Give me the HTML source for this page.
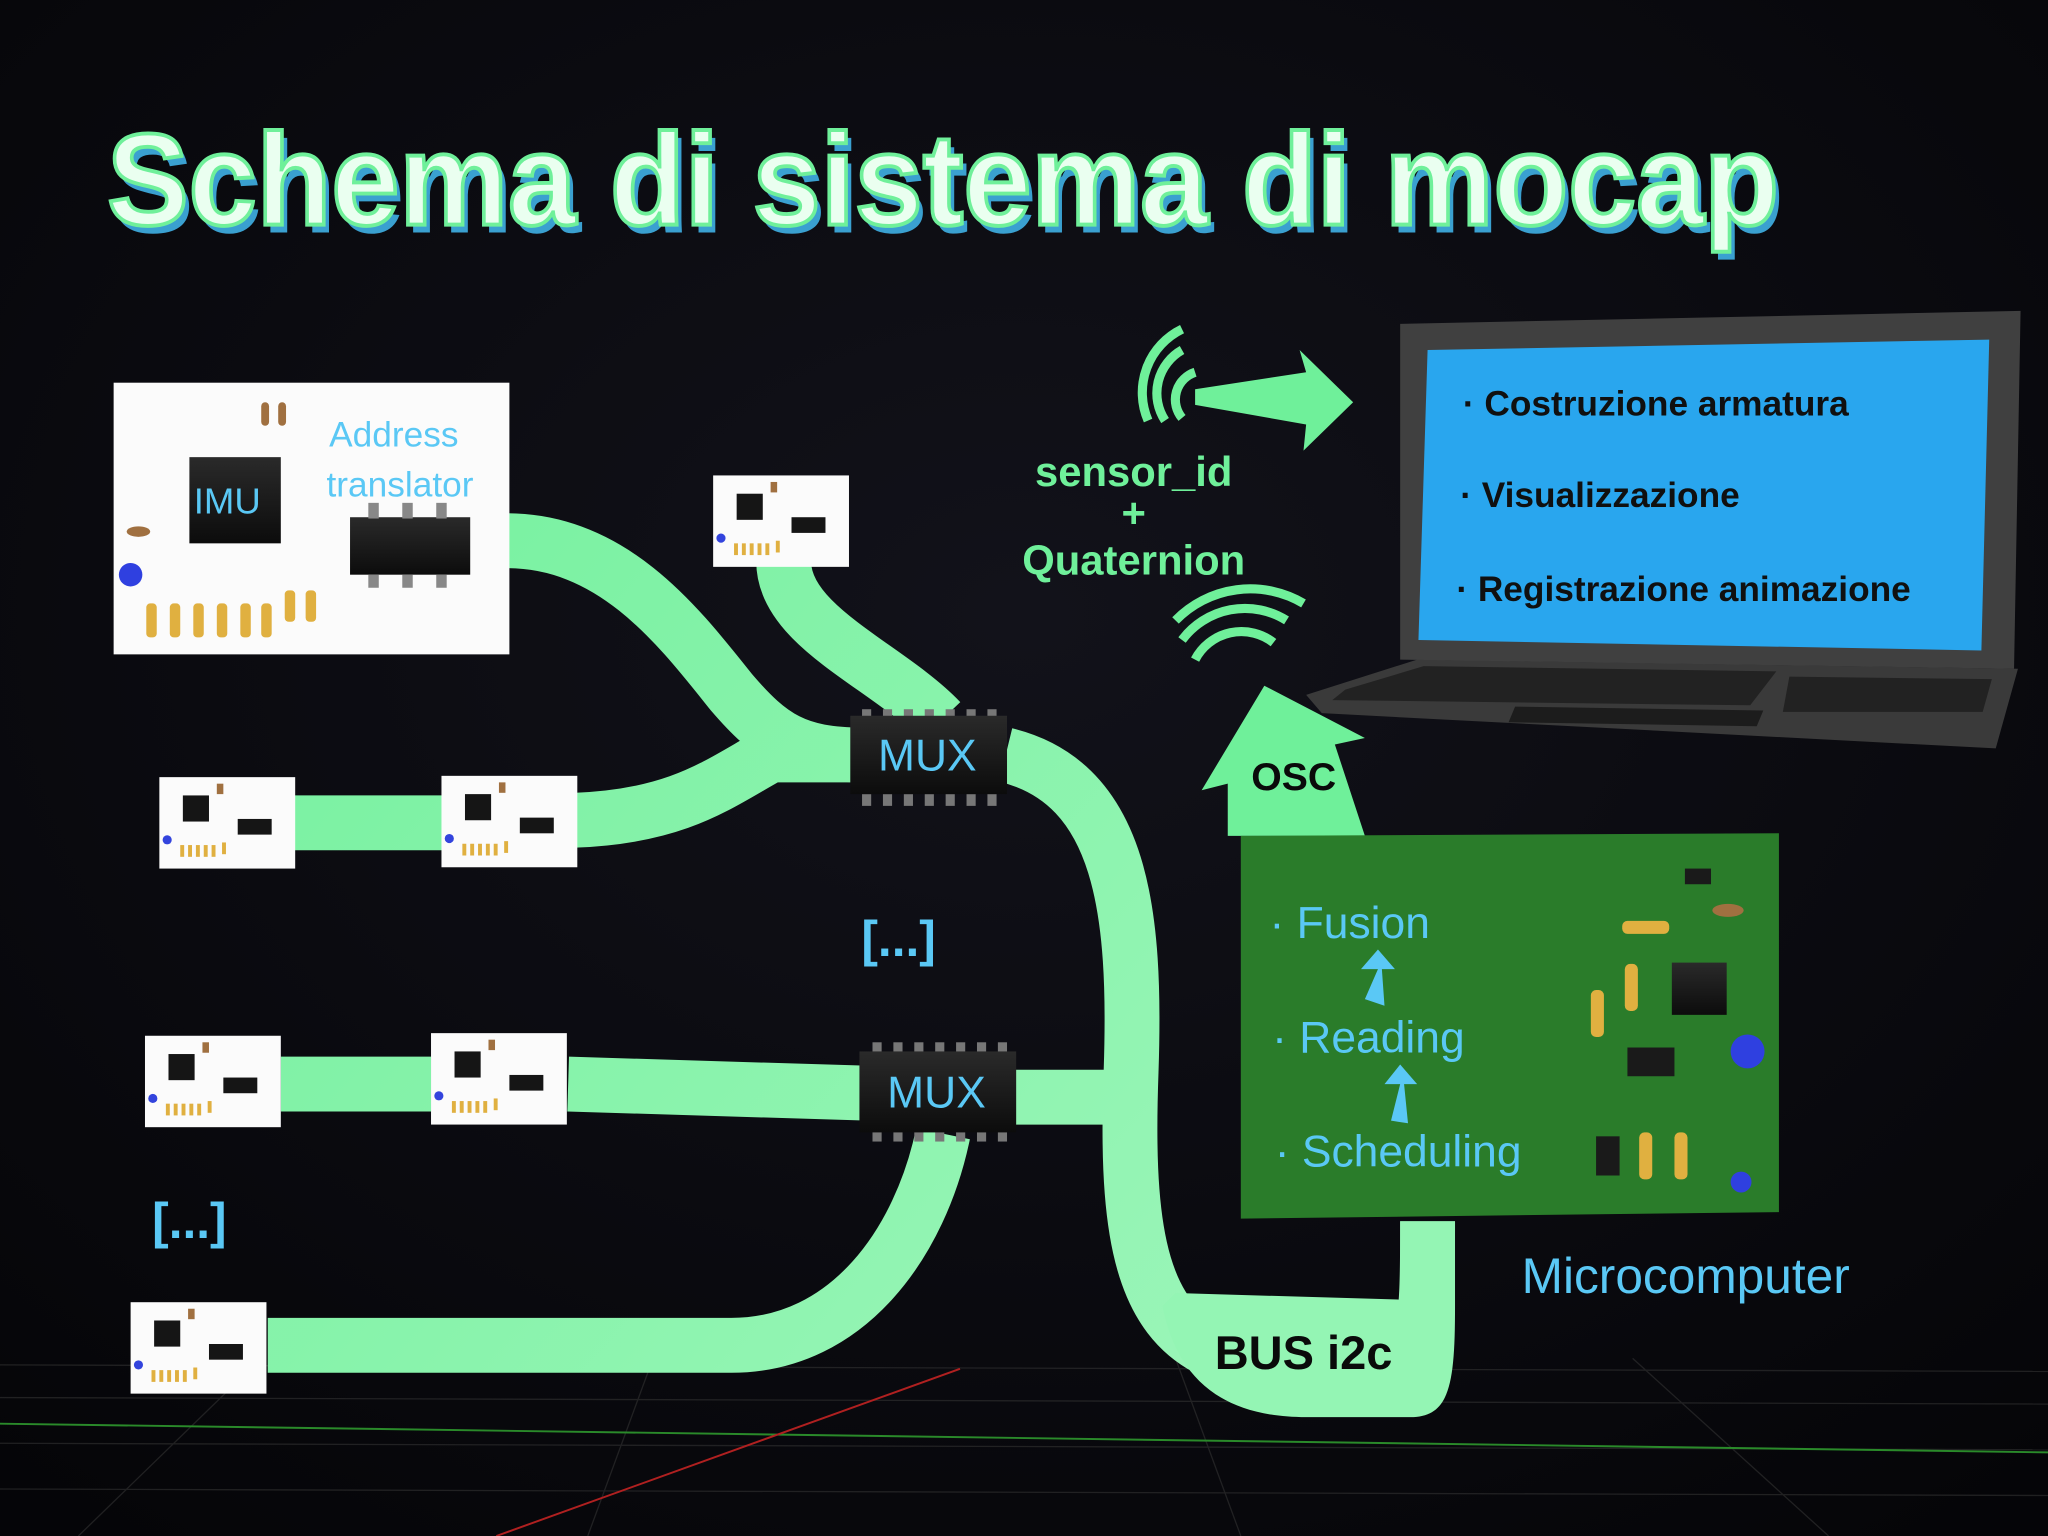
<!DOCTYPE html>
<html><head><meta charset="utf-8"><style>
html,body{margin:0;padding:0;background:#07070c;}
svg{display:block}
</style></head><body>
<svg width="2048" height="1536" viewBox="0 0 1568 1176" preserveAspectRatio="none" xmlns="http://www.w3.org/2000/svg">
<defs>
<radialGradient id="bg" cx="50%" cy="40%" r="75%"><stop offset="0" stop-color="#12121a"/><stop offset="1" stop-color="#050508"/></radialGradient>
<linearGradient id="rib" gradientUnits="userSpaceOnUse" x1="0" y1="300" x2="900" y2="1100"><stop offset="0" stop-color="#6ff09a"/><stop offset="1" stop-color="#9af5b8"/></linearGradient>
<linearGradient id="chip" x1="0" y1="0" x2="0" y2="1"><stop offset="0" stop-color="#2a2a2a"/><stop offset="1" stop-color="#0c0c0c"/></linearGradient>
<g id="sb">
<rect x="0" y="0" width="104" height="70" fill="#fbfbfb"/>
<rect x="18" y="14" width="20" height="20" fill="#151515"/>
<rect x="60" y="32" width="26" height="12" fill="#151515"/>
<g fill="#e0b040"><rect x="16" y="52" width="3" height="9"/><rect x="22" y="52" width="3" height="9"/><rect x="28" y="52" width="3" height="9"/><rect x="34" y="52" width="3" height="9"/><rect x="40" y="52" width="3" height="9"/><rect x="48" y="50" width="3" height="9"/></g>
<circle cx="6" cy="48" r="3.5" fill="#3344dd"/>
<rect x="44" y="5" width="5" height="8" fill="#a07040"/>
</g>
</defs>
<rect width="1568" height="1176" fill="url(#bg)"/>
<!-- floor grid -->
<g stroke="#333" stroke-width="1" opacity="0.6">
<line x1="0" y1="1045" x2="1568" y2="1050"/><line x1="0" y1="1070" x2="1568" y2="1075"/><line x1="0" y1="1105" x2="1568" y2="1110"/><line x1="0" y1="1140" x2="1568" y2="1145"/>
<line x1="200" y1="1040" x2="60" y2="1176"/><line x1="500" y1="1040" x2="450" y2="1176"/><line x1="900" y1="1040" x2="950" y2="1176"/><line x1="1250" y1="1040" x2="1400" y2="1176"/>
</g>
<line x1="0" y1="1090" x2="1568" y2="1112" stroke="#2a8a2a" stroke-width="1.5"/>
<line x1="735" y1="1048" x2="380" y2="1176" stroke="#b02020" stroke-width="1.5"/>

<!-- title -->
<text x="82" y="172" font-family="Liberation Sans,sans-serif" font-weight="bold" font-size="100" textLength="1280" lengthAdjust="spacingAndGlyphs" fill="#3aa0d0" transform="translate(4,6)">Schema di sistema di mocap</text>
<text x="82" y="172" font-family="Liberation Sans,sans-serif" font-weight="bold" font-size="100" textLength="1280" lengthAdjust="spacingAndGlyphs" fill="#eafff0" stroke="#6ff09a" stroke-width="3">Schema di sistema di mocap</text>

<!-- ribbons -->
<g fill="none" stroke="url(#rib)" stroke-width="42" stroke-linejoin="round">
<path d="M388,414 C470,414 520,480 560,530 C590,565 610,578 660,578"/>
<path d="M600,430 C600,480 680,510 720,552"/>
<path d="M225,630 L340,630"/>
<path d="M440,628 C520,625 550,600 590,578 L660,578"/>
<path d="M770,578 C860,600 870,700 866,820 C862,930 870,1000 920,1030 L1060,1040 C1092,1040 1093,1020 1093,935"/>
<path d="M215,830 L330,830"/>
<path d="M435,830 L665,837"/>
<path d="M775,840 L860,840"/>
<path d="M205,1030 L560,1030 C650,1030 705,950 722,868"/>
</g>
<path d="M890,1000 C900,1050 930,1085 1000,1085 L1080,1085 C1110,1085 1114,1060 1114,1000 L1114,935 L1072,935 L1072,995 L900,990 Z" fill="#94f5b4"/>
<!-- OSC arrow -->
<polygon points="940,640 940,600 920,605 968,525 1045,565 1022,570 1045,640" fill="#6ff09a"/>
<text x="958" y="605" font-family="Liberation Sans,sans-serif" font-weight="bold" font-size="30" fill="#0a0a0a">OSC</text>
<!-- wireless arrow -->
<polygon points="915,298 1000,285 995,268 1036,308 998,345 1000,325 915,310" fill="#6ff09a"/>
<g fill="none" stroke="#6ff09a" stroke-width="7">
<path d="M905,320 A22,22 0 0 1 915,285"/><path d="M892,322 A38,38 0 0 1 905,268"/><path d="M879,322 A54,54 0 0 1 905,252"/>
<path d="M915,505 A40,40 0 0 1 975,492"/><path d="M905,490 A60,60 0 0 1 985,475"/><path d="M900,475 A80,80 0 0 1 998,462"/>
</g>
<text x="868" y="372" text-anchor="middle" font-family="Liberation Sans,sans-serif" font-weight="bold" font-size="32" fill="#6ff09a">sensor_id</text>
<text x="868" y="404" text-anchor="middle" font-family="Liberation Sans,sans-serif" font-weight="bold" font-size="32" fill="#6ff09a">+</text>
<text x="868" y="440" text-anchor="middle" font-family="Liberation Sans,sans-serif" font-weight="bold" font-size="32" fill="#6ff09a">Quaternion</text>

<!-- big board -->
<rect x="87" y="293" width="303" height="208" fill="#fbfbfb"/>
<rect x="145" y="350" width="70" height="66" fill="url(#chip)"/>
<text x="174" y="393" text-anchor="middle" font-family="Liberation Sans,sans-serif" font-size="28" fill="#5ac8f5">IMU</text>
<rect x="268" y="396" width="92" height="44" fill="url(#chip)"/>
<g fill="#888"><rect x="282" y="385" width="8" height="12"/><rect x="308" y="385" width="8" height="12"/><rect x="334" y="385" width="8" height="12"/><rect x="282" y="440" width="8" height="10"/><rect x="308" y="440" width="8" height="10"/><rect x="334" y="440" width="8" height="10"/></g>
<text x="252" y="342" font-family="Liberation Sans,sans-serif" font-size="27" fill="#5ac8f5">Address</text>
<text x="250" y="380" font-family="Liberation Sans,sans-serif" font-size="27" fill="#5ac8f5">translator</text>
<g fill="#e0b040"><rect x="112" y="462" width="8" height="26" rx="3"/><rect x="130" y="462" width="8" height="26" rx="3"/><rect x="148" y="462" width="8" height="26" rx="3"/><rect x="166" y="462" width="8" height="26" rx="3"/><rect x="184" y="462" width="8" height="26" rx="3"/><rect x="200" y="462" width="8" height="26" rx="3"/><rect x="218" y="452" width="8" height="24" rx="3"/><rect x="234" y="452" width="8" height="24" rx="3"/></g>
<rect x="200" y="308" width="6" height="18" rx="3" fill="#a07040"/><rect x="213" y="308" width="6" height="18" rx="3" fill="#a07040"/>
<ellipse cx="106" cy="407" rx="9" ry="4" fill="#a07040"/>
<circle cx="100" cy="440" r="9" fill="#2f40e0"/>

<!-- small boards -->
<use href="#sb" x="546" y="364" />
<use href="#sb" x="122" y="595"/>
<use href="#sb" x="338" y="594"/>
<use href="#sb" x="111" y="793"/>
<use href="#sb" x="330" y="791"/>
<use href="#sb" x="100" y="997"/>

<!-- MUX chips -->
<g>
<g fill="#777"><rect x="660" y="543" width="7" height="8"/><rect x="676" y="543" width="7" height="8"/><rect x="692" y="543" width="7" height="8"/><rect x="708" y="543" width="7" height="8"/><rect x="724" y="543" width="7" height="8"/><rect x="740" y="543" width="7" height="8"/><rect x="756" y="543" width="7" height="8"/>
<rect x="660" y="608" width="7" height="9"/><rect x="676" y="608" width="7" height="9"/><rect x="692" y="608" width="7" height="9"/><rect x="708" y="608" width="7" height="9"/><rect x="724" y="608" width="7" height="9"/><rect x="740" y="608" width="7" height="9"/><rect x="756" y="608" width="7" height="9"/></g>
<rect x="651" y="548" width="120" height="60" fill="url(#chip)"/>
<text x="710" y="590" text-anchor="middle" font-family="Liberation Sans,sans-serif" font-size="34" fill="#5ac8f5">MUX</text>
</g>
<g>
<g fill="#777"><rect x="668" y="798" width="7" height="9"/><rect x="684" y="798" width="7" height="9"/><rect x="700" y="798" width="7" height="9"/><rect x="716" y="798" width="7" height="9"/><rect x="732" y="798" width="7" height="9"/><rect x="748" y="798" width="7" height="9"/><rect x="764" y="798" width="7" height="9"/>
<rect x="668" y="865" width="7" height="9"/><rect x="684" y="865" width="7" height="9"/><rect x="700" y="865" width="7" height="9"/><rect x="716" y="865" width="7" height="9"/><rect x="732" y="865" width="7" height="9"/><rect x="748" y="865" width="7" height="9"/><rect x="764" y="865" width="7" height="9"/></g>
<rect x="658" y="805" width="120" height="62" fill="url(#chip)"/>
<text x="717" y="848" text-anchor="middle" font-family="Liberation Sans,sans-serif" font-size="34" fill="#5ac8f5">MUX</text>
</g>

<text x="688" y="732" text-anchor="middle" font-family="Liberation Sans,sans-serif" font-weight="bold" font-size="38" fill="#5ac8f5">[...]</text>
<text x="145" y="948" text-anchor="middle" font-family="Liberation Sans,sans-serif" font-weight="bold" font-size="38" fill="#5ac8f5">[...]</text>
<text x="930" y="1048" font-family="Liberation Sans,sans-serif" font-weight="bold" font-size="36" fill="#0a0a0a">BUS i2c</text>

<!-- laptop -->
<polygon points="1000,532 1085,505 1545,512 1528,573 1012,546" fill="#3a3a3a"/>
<polygon points="1030,528 1090,510 1360,514 1340,540 1020,536" fill="#222"/>
<polygon points="1370,518 1525,520 1518,545 1365,545" fill="#222"/>
<polygon points="1160,541 1350,544 1345,556 1155,553" fill="#1c1c1c"/>
<polygon points="1072,248 1547,238 1542,512 1072,505" fill="#404040"/>
<polygon points="1093,268 1523,260 1517,498 1086,490" fill="#29a6ee"/>
<g font-family="Liberation Sans,sans-serif" font-weight="bold" font-size="27" fill="#101010">
<text x="1120" y="318">· Costruzione armatura</text>
<text x="1118" y="388">· Visualizzazione</text>
<text x="1115" y="460">· Registrazione animazione</text>
</g>

<!-- microcomputer -->
<polygon points="950,640 1362,638 1362,928 950,933" fill="#2a7c2a"/>
<g font-family="Liberation Sans,sans-serif" font-size="34" fill="#5ac8f5">
<text x="972" y="718">· Fusion</text>
<text x="974" y="806">· Reading</text>
<text x="976" y="893">· Scheduling</text>
</g>
<polygon points="1045,765 1055,742 1042,742 1055,727 1068,742 1058,742 1060,770" fill="#5ac8f5"/>
<polygon points="1065,858 1072,830 1060,830 1072,815 1085,830 1075,830 1078,860" fill="#5ac8f5"/>
<rect x="1280" y="737" width="42" height="40" fill="url(#chip)"/>
<rect x="1246" y="802" width="36" height="22" fill="#1a1a1a"/>
<rect x="1222" y="870" width="18" height="30" fill="#1a1a1a"/>
<rect x="1290" y="665" width="20" height="12" fill="#1a1a1a"/>
<g fill="#e0b040"><rect x="1242" y="705" width="36" height="10" rx="4"/><rect x="1244" y="738" width="10" height="36" rx="4"/><rect x="1218" y="758" width="10" height="36" rx="4"/><rect x="1255" y="867" width="10" height="36" rx="4"/><rect x="1282" y="867" width="10" height="36" rx="4"/></g>
<ellipse cx="1323" cy="697" rx="12" ry="5" fill="#a07040"/>
<circle cx="1338" cy="805" r="13" fill="#2f40e0"/>
<circle cx="1333" cy="905" r="8" fill="#2f40e0"/>
<text x="1165" y="990" font-family="Liberation Sans,sans-serif" font-size="38" fill="#5ac8f5">Microcomputer</text>
</svg>
</body></html>
